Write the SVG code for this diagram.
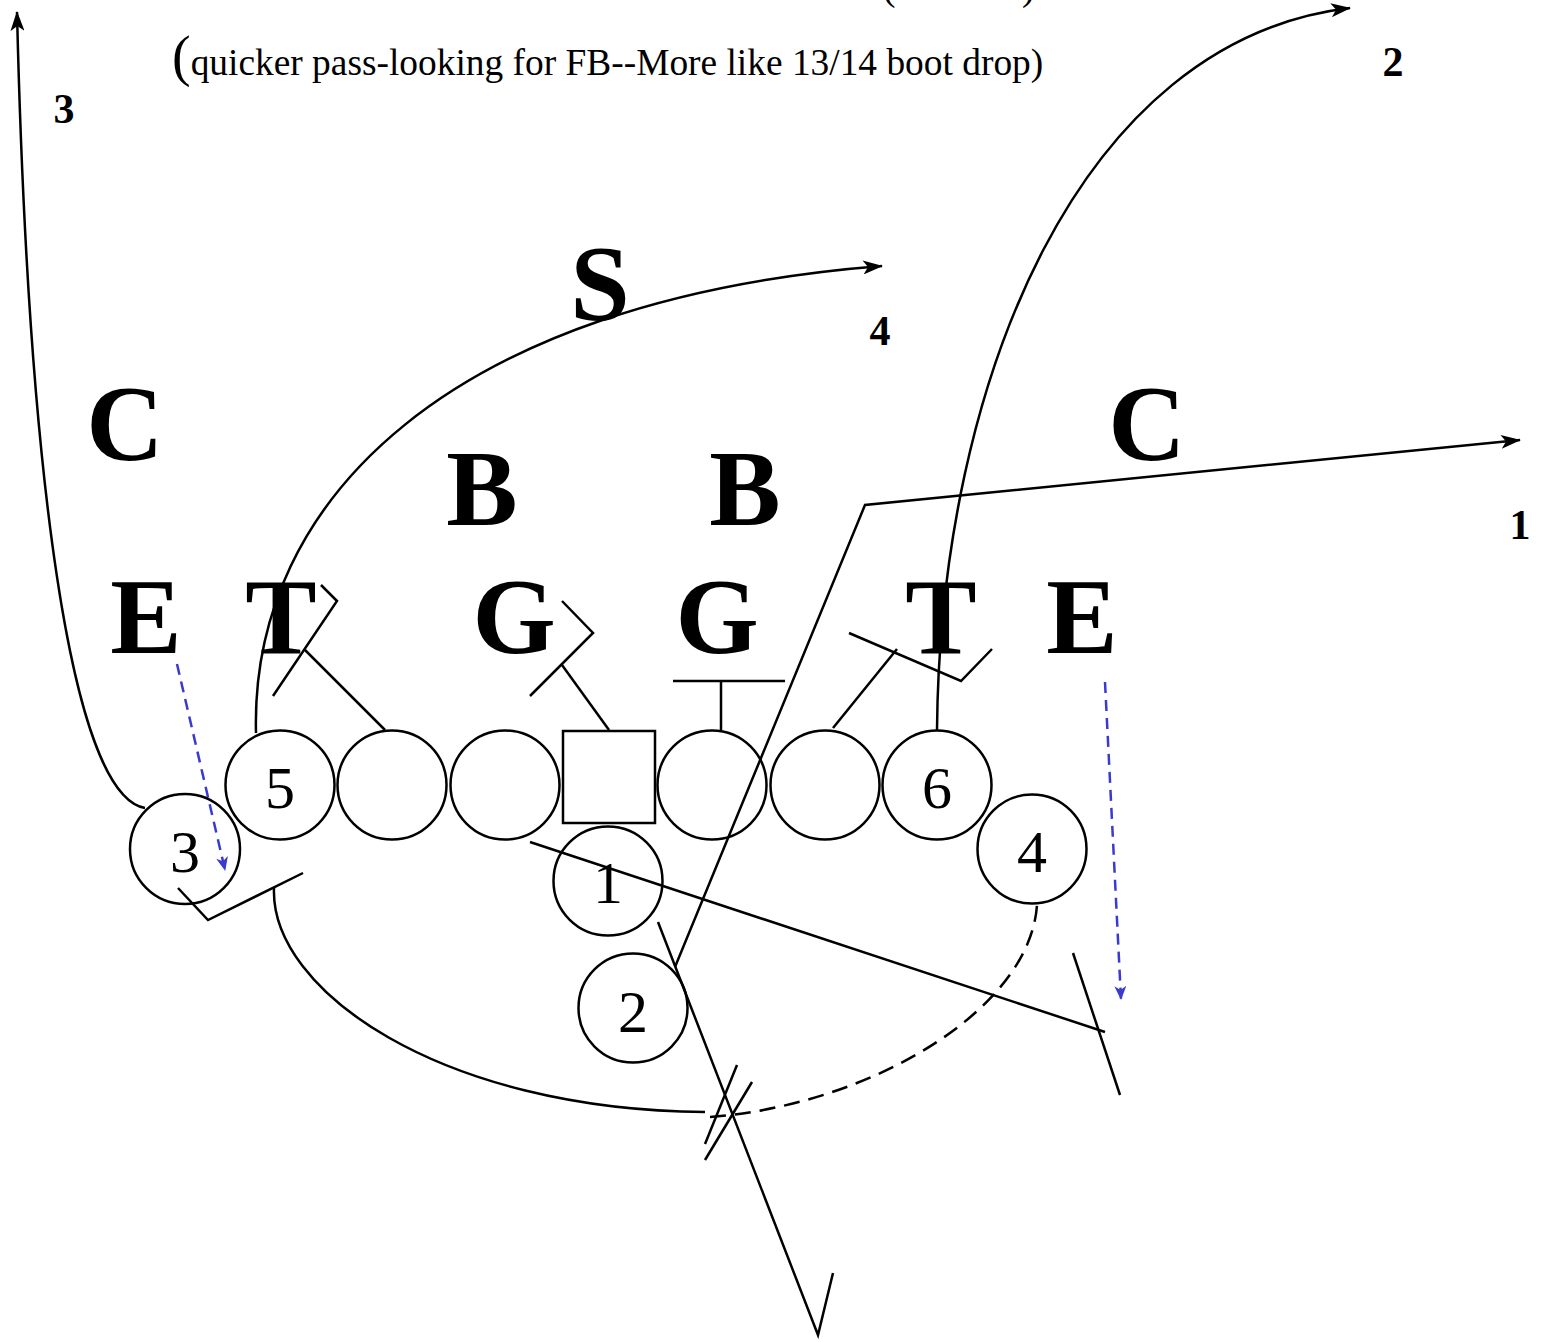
<svg xmlns="http://www.w3.org/2000/svg" width="1549" height="1342" viewBox="0 0 1549 1342">
<style>
.ln{fill:none;stroke:#000;stroke-width:2.5}
.pl{fill:none;stroke:#000;stroke-width:2.5}
.bl{fill:none;stroke:#3a3ad0;stroke-width:2.5;stroke-dasharray:11 7}
.def{font-family:"Liberation Serif",serif;font-weight:bold;font-size:107px;text-anchor:middle}
.num{font-family:"Liberation Serif",serif;font-size:60px;text-anchor:middle}
.rt{font-family:"Liberation Serif",serif;font-weight:bold;font-size:42px;text-anchor:middle}
.tt{font-family:"Liberation Serif",serif;font-size:37.4px}
</style>
<defs>
<marker id="ah" viewBox="0 0 20 14" refX="19" refY="7" markerWidth="20" markerHeight="14" markerUnits="userSpaceOnUse" orient="auto"><path d="M0,0 L20,7 L0,14 L5,7 z" fill="#000"/></marker>
<marker id="bh" viewBox="0 0 14 12" refX="13" refY="6" markerWidth="14" markerHeight="12" markerUnits="userSpaceOnUse" orient="auto"><path d="M0,0 L14,6 L0,12 L4,6 z" fill="#3a3ad0"/></marker>
</defs>
<g id="title">
<text class="tt" x="883" y="0" font-size="50">(</text>
<text class="tt" x="1022" y="0" font-size="50">)</text>
<text class="tt" x="172" y="75"><tspan font-size="56">(</tspan>quicker pass-looking for FB--More like 13/14 boot drop)</text>
</g>
<g id="connectors">
<path class="ln" d="M145,808 C70,795 28,470 17,12" marker-end="url(#ah)"/>
<path class="ln" d="M256,733 C250,500 450,300 882,266" marker-end="url(#ah)"/>
<path class="ln" d="M937,730 C940,380 1080,40 1350,8" marker-end="url(#ah)"/>
<path class="ln" d="M675,967 L865,505 L1520,440" marker-end="url(#ah)"/>
<path class="ln" d="M530,842 L1105,1032"/>
<path class="ln" d="M1073,953 L1120,1095"/>
<path class="ln" d="M658,922 L818,1335 L833,1273"/>
<path class="ln" d="M705,1144 L737,1065"/>
<path class="ln" d="M705,1160 L752,1082"/>
<path class="ln" d="M178,888 L208,920 L303,873"/>
<path class="ln" d="M274,888 C270,990 440,1110 705,1112"/>
<path class="ln" d="M710,1117 C870,1105 1030,1010 1037,905" stroke-dasharray="16 9"/>
<path class="ln" d="M385,730 L305,650"/>
<path class="ln" d="M273,696 L337,601 L321,585"/>
<path class="ln" d="M609,730 L562,665"/>
<path class="ln" d="M530,696 L593,633 L562,601"/>
<path class="ln" d="M721,730 L721,681 M673,681 L785,681"/>
<path class="ln" d="M833,728 L897,649"/>
<path class="ln" d="M849,633 L961,681 L992,649"/>
<path class="bl" d="M177,664 L225,870" marker-end="url(#bh)"/>
<path class="bl" d="M1105,682 L1121,999" marker-end="url(#bh)"/>
</g>
<g id="defense">
<text class="def" x="125" y="460">C</text>
<text class="def" x="1147" y="460">C</text>
<text class="def" x="600" y="320">S</text>
<text class="def" x="482" y="525">B</text>
<text class="def" x="745" y="525">B</text>
<text class="def" x="146" y="653">E</text>
<text class="def" x="281" y="653">T</text>
<text class="def" x="514" y="653">G</text>
<text class="def" x="717" y="653">G</text>
<text class="def" x="941" y="653">T</text>
<text class="def" x="1082" y="653">E</text>
</g>
<g id="route-labels">
<text class="rt" x="64" y="123">3</text>
<text class="rt" x="1393" y="76">2</text>
<text class="rt" x="880" y="345">4</text>
<text class="rt" x="1520" y="539">1</text>
</g>
<g id="p3"><circle class="pl" cx="185" cy="849" r="55"/><text class="num" x="185" y="872">3</text></g>
<g id="p5"><circle class="pl" cx="280" cy="785" r="54.5"/><text class="num" x="280" y="808">5</text></g>
<g id="lt"><circle class="pl" cx="392" cy="785" r="54.5"/></g>
<g id="lg"><circle class="pl" cx="505" cy="785" r="54.5"/></g>
<g id="center"><rect class="pl" x="563" y="731" width="92" height="92"/></g>
<g id="rg"><circle class="pl" cx="712" cy="785" r="54.5"/></g>
<g id="rt"><circle class="pl" cx="825" cy="785" r="54.5"/></g>
<g id="p6"><circle class="pl" cx="937" cy="785" r="54.5"/><text class="num" x="937" y="808">6</text></g>
<g id="p4"><circle class="pl" cx="1032" cy="849" r="54.5"/><text class="num" x="1032" y="872">4</text></g>
<g id="p1"><circle class="pl" cx="608" cy="881" r="54.5"/><text class="num" x="608" y="903">1</text></g>
<g id="p2"><circle class="pl" cx="633" cy="1008" r="54.5"/><text class="num" x="633" y="1032">2</text></g>
</svg>
